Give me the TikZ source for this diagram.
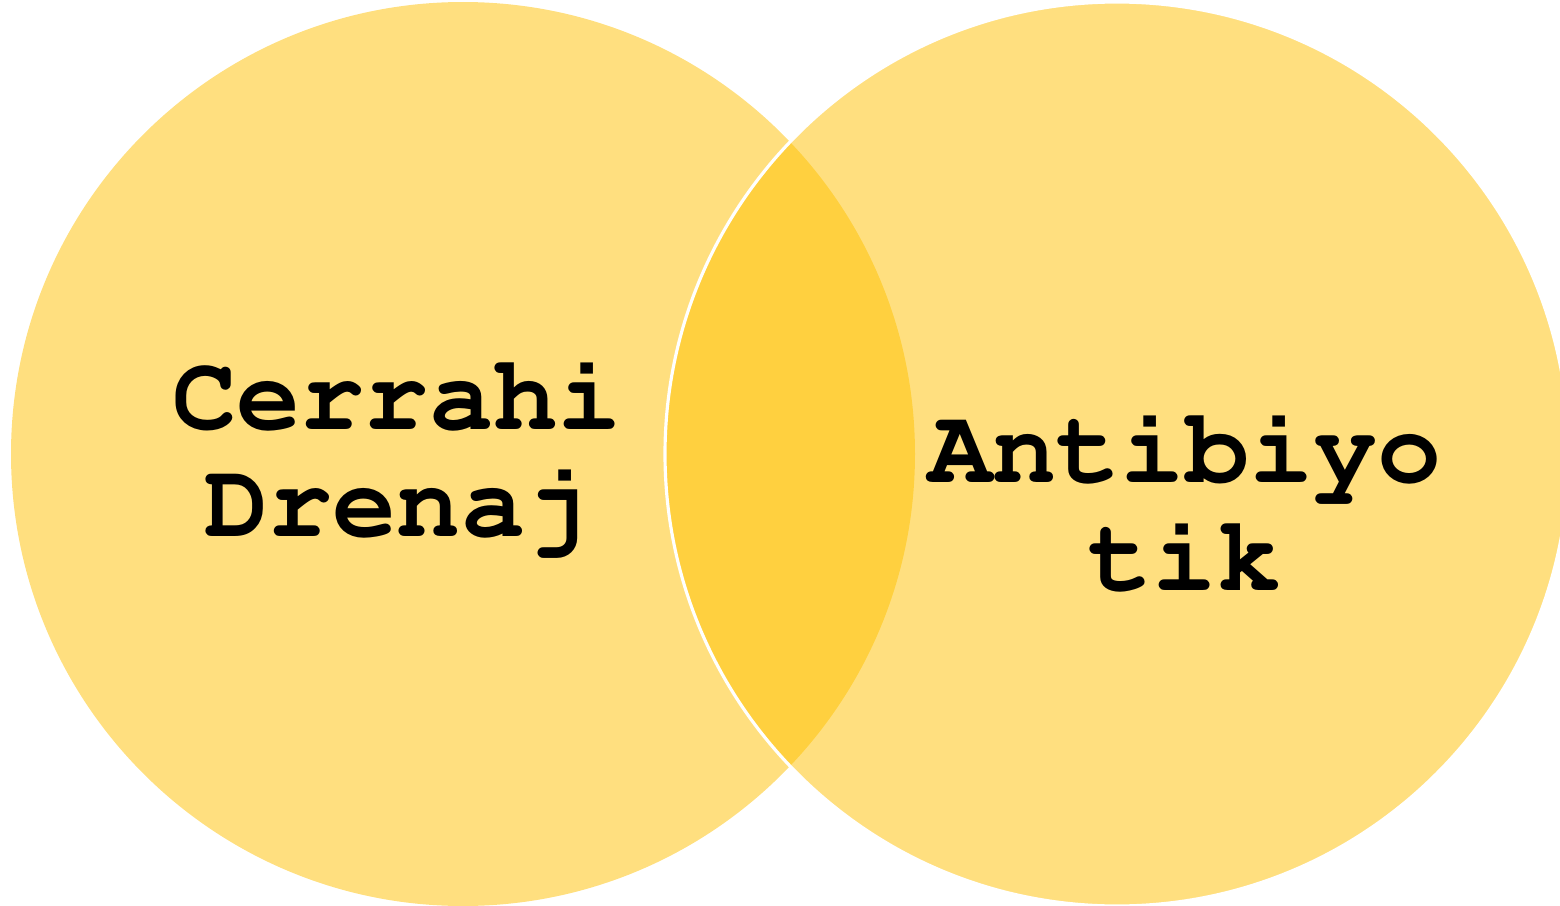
\documentclass[tikz,border=0pt]{standalone}
\definecolor{venn}{HTML}{FFC000}
\newcommand{\couriertext}{\fontencoding{OT1}\fontfamily{pcr}\fontseries{b}\selectfont}
\begin{document}
\begin{tikzpicture}[x=0.01cm,y=-0.01cm,
  setcircle/.style={fill=venn,fill opacity=0.5,draw=none},
  setlabel/.style={font=\couriertext\fontsize{30.4pt}{30.5pt}\selectfont,align=center,text=black,inner sep=0pt}]
\useasboundingbox (0,0) rectangle (1560,906);
\clip (0,0) rectangle (1560,906);
\fill[setcircle] (463,454) circle[radius=452];
\fill[setcircle] (1117,454) circle[radius=452];
\draw[white,line width=0.9pt] (1117,454) circle[radius=452];
\node[setlabel] (left) at (397,455) {Cerrahi\\Drenaj};
\node[setlabel] (right) at (1185,502) {Antibiyo\\tik};
\end{tikzpicture}
\end{document}
